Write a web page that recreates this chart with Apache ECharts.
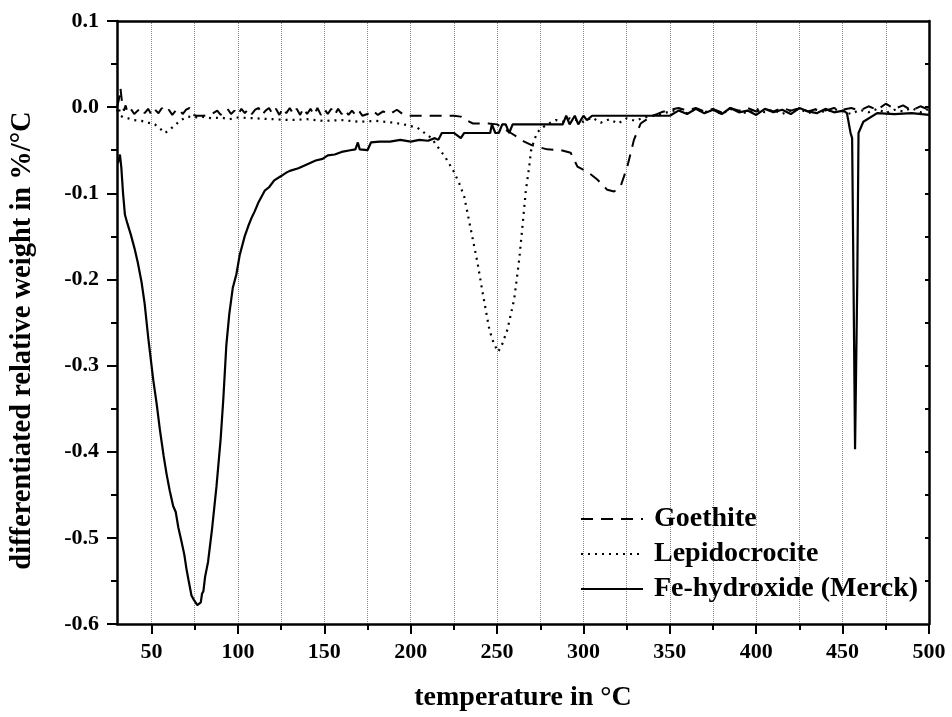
<!DOCTYPE html>
<html>
<head>
<meta charset="utf-8">
<script src="https://cdn.jsdelivr.net/npm/echarts@6/dist/echarts.min.js"></script>
<style>
html,body{margin:0;padding:0;background:#fff;}
#chart{width:952px;height:717px;}
</style>
</head>
<body>
<div id="chart"></div>
<script>
// ---- data ----
var seriesNames = ['Goethite', 'Lepidocrocite', 'Fe-hydroxide (Merck)'];

var goethiteT = [30,31,32,33,34,35,36,38,40,42,44,46,48,50,52,54,56,58,60,62,64,66,68,70,72,74,76,80,84,88,90,92,94,96,98,100,102,104,106,108,110,112,114,116,118,120,122,124,126,128,130,132,134,136,138,140,142,144,146,148,150,152,154,156,158,160,162,164,166,168,170,172,175,178,181,184,188,192,196,200,205,215,225,229,232,236,245,250,253,258,262,265.7,270,273.4,279,287,292.6,296.5,302.3,308,313.8,317.7,321.5,325.4,329.2,333.1,339,345,350,355,360,365,370,375,380,385,390,395,400,405,410,415,420,425,430,435,440,445,450,455,460,465,470,475,480,485,490,495,500];
var goethiteW = [0.0,0.008,0.022,0.004,-0.004,0.002,-0.006,-0.002,-0.008,-0.004,-0.001,-0.007,-0.002,-0.009,-0.003,-0.007,-0.001,-0.006,-0.003,-0.009,-0.004,-0.002,-0.008,-0.003,-0.001,-0.009,-0.01,-0.01,-0.009,-0.004,-0.009,-0.005,-0.002,-0.008,-0.004,-0.009,-0.002,-0.007,-0.002,-0.008,-0.003,-0.001,-0.009,-0.004,-0.001,-0.008,-0.002,-0.009,-0.001,-0.007,-0.001,-0.008,-0.002,-0.009,-0.001,-0.008,-0.002,-0.009,-0.001,-0.009,-0.002,-0.008,-0.002,-0.009,-0.002,-0.008,-0.003,-0.009,-0.004,-0.009,-0.004,-0.01,-0.008,-0.004,-0.009,-0.005,-0.008,-0.003,-0.009,-0.01,-0.01,-0.01,-0.01,-0.011,-0.015,-0.019,-0.019,-0.02,-0.024,-0.03,-0.035,-0.04,-0.044,-0.046,-0.049,-0.05,-0.053,-0.069,-0.075,-0.084,-0.096,-0.098,-0.092,-0.069,-0.038,-0.019,-0.011,-0.006,-0.003,-0.001,-0.004,-0.001,-0.005,-0.002,-0.006,-0.001,-0.004,-0.001,-0.005,-0.002,-0.005,-0.001,-0.004,-0.001,-0.005,-0.002,-0.004,-0.001,-0.003,-0.001,-0.004,0.001,-0.003,0.004,-0.002,0.002,-0.004,0.001,-0.003];

var lepidoT = [30,31,32,34,36.5,40,44.2,48,51.9,55,57.7,60,63.5,67,71.2,75,78.9,85,90,95,100,110,120,130,140,150,160,170,180,190,196,200,204,208,212,215.6,220,225,228,231,234,238.7,241.6,245.5,248,249.3,250.5,251.5,253,256,258,259.9,262.8,264.7,266.7,268.6,269.6,271.5,273.4,276,280,284,288,292,296,300,305,310,315,320,325,330,335,340,345,350,355,360,365,370,375,380,385,390,395,400,405,410,415,420,425,430,435,440,445,450,455,460,465,470,475,480,485,490,495,500];
var lepidoW = [-0.005,0.0,-0.01,-0.012,-0.013,-0.015,-0.016,-0.018,-0.02,-0.025,-0.03,-0.027,-0.021,-0.015,-0.011,-0.012,-0.011,-0.013,-0.012,-0.014,-0.012,-0.013,-0.014,-0.015,-0.014,-0.016,-0.015,-0.017,-0.016,-0.018,-0.02,-0.022,-0.024,-0.03,-0.036,-0.046,-0.058,-0.075,-0.088,-0.104,-0.134,-0.181,-0.215,-0.258,-0.274,-0.279,-0.284,-0.281,-0.275,-0.258,-0.24,-0.223,-0.177,-0.138,-0.096,-0.069,-0.051,-0.038,-0.029,-0.024,-0.019,-0.015,-0.017,-0.013,-0.015,-0.017,-0.012,-0.018,-0.014,-0.019,-0.013,-0.016,-0.012,-0.01,-0.008,-0.005,-0.003,-0.007,-0.002,-0.006,-0.003,-0.008,-0.002,-0.005,-0.007,-0.002,-0.006,-0.003,-0.008,-0.004,-0.002,-0.007,-0.003,-0.006,-0.002,-0.005,-0.008,-0.003,-0.006,-0.002,-0.007,-0.003,-0.005,-0.001,-0.006,-0.002,-0.004];

var feT = [30.5,31.7,32.5,33.5,34.6,36,38,40.4,42,44.2,46,48.1,50,51,53,54.8,57,58.7,60.5,62.5,64,65.5,67.3,69,70.2,71.5,73.1,74.5,75.5,76.5,77.5,78.5,79.2,80,81,82.7,85,87.6,90,91.5,93.3,95,97,99.1,101,103.9,106,108,109.7,112,115.5,118,121,125,128,130,135,140.5,145,149,152,156,160,165,168,169.4,170.5,175,177,182,188,194,200,205,210,214,216,218,225,229,231,240,246,247,249,251,253,255,257,259,262,270,280,288,290,292,295,297,300,302,305,308,320,335,350,355,360,365,370,375,380,385,390,395,400,405,410,415,420,425,430,435,440,445,450.5,452.5,454.6,455.5,456.3,457.2,458.5,459.2,462,470,480,490,500];
var feW = [-0.065,-0.055,-0.07,-0.1,-0.125,-0.135,-0.148,-0.166,-0.18,-0.203,-0.228,-0.268,-0.3,-0.317,-0.345,-0.374,-0.405,-0.426,-0.445,-0.463,-0.47,-0.488,-0.504,-0.52,-0.536,-0.55,-0.567,-0.572,-0.57,-0.578,-0.58,-0.575,-0.565,-0.562,-0.545,-0.528,-0.49,-0.44,-0.385,-0.34,-0.276,-0.24,-0.21,-0.194,-0.172,-0.15,-0.138,-0.128,-0.121,-0.11,-0.097,-0.093,-0.085,-0.08,-0.076,-0.074,-0.071,-0.066,-0.062,-0.06,-0.056,-0.055,-0.052,-0.05,-0.049,-0.041,-0.049,-0.05,-0.041,-0.04,-0.04,-0.038,-0.04,-0.038,-0.039,-0.036,-0.038,-0.03,-0.03,-0.036,-0.03,-0.03,-0.03,-0.02,-0.03,-0.03,-0.02,-0.02,-0.03,-0.02,-0.02,-0.02,-0.02,-0.02,-0.01,-0.02,-0.01,-0.02,-0.01,-0.015,-0.01,-0.01,-0.01,-0.01,-0.01,-0.004,-0.008,-0.002,-0.007,-0.003,-0.008,-0.001,-0.006,-0.004,-0.009,-0.002,-0.006,-0.003,-0.008,-0.001,-0.005,-0.007,-0.002,-0.006,-0.004,-0.007,-0.03,-0.036,-0.2,-0.397,-0.2,-0.03,-0.017,-0.007,-0.008,-0.007,-0.009,-0.007];

var xLabelValues = [50,100,150,200,250,300,350,400,450,500];
var xMinorValues = [75,125,175,225,275,325,375,425,475];
var yRightTicks = [-0.55,-0.5,-0.45,-0.4,-0.35,-0.3,-0.25,-0.2,-0.15,-0.1,-0.05,0,0.05];

function pairs(t, w) { return t.map(function (v, i) { return [v, w[i]]; }); }

var FONT = 'Liberation Serif';
var chart = echarts.init(document.getElementById('chart'), null, {renderer: 'canvas'});

var axisLineStyle = {color: '#000', width: 2.5};
var gridLine = {show: true, lineStyle: {color: '#888', width: 1, type: [1, 1]}};

chart.setOption({
  backgroundColor: '#fff',
  animation: false,
  grid: {left: 117, right: 23, top: 21, bottom: 92, containLabel: false},
  legend: {
    orient: 'vertical', left: 580, top: 505, padding: 0,
    itemWidth: 62, itemHeight: 14, itemGap: 7,
    itemStyle: {color: 'rgba(0,0,0,0)', borderColor: 'rgba(0,0,0,0)', borderWidth: 0, opacity: 0},
    textStyle: {fontFamily: FONT, fontWeight: 'bold', fontSize: 28, color: '#000', padding: [0, 0, 0, 6]},
    data: seriesNames
  },
  xAxis: [
    {
      type: 'value', min: 30, max: 500, position: 'bottom',
      name: 'temperature in \u00B0C', nameLocation: 'middle', nameGap: 60,
      nameTextStyle: {fontFamily: FONT, fontWeight: 'bold', fontSize: 28, color: '#000'},
      axisLine: {show: true, onZero: false, lineStyle: axisLineStyle},
      axisTick: {show: true, inside: false, length: 10, customValues: xLabelValues, lineStyle: {color: '#000', width: 2}},
      axisLabel: {show: true, customValues: xLabelValues, margin: 17, fontFamily: FONT, fontWeight: 'bold', fontSize: 22, color: '#000'},
      splitLine: gridLine
    },
    {
      type: 'value', min: 30, max: 500, position: 'bottom',
      axisLine: {show: false, onZero: false},
      axisTick: {show: true, inside: false, length: 6, customValues: xMinorValues, lineStyle: {color: '#000', width: 2}},
      axisLabel: {show: false},
      splitLine: gridLine
    },
    {
      type: 'value', min: 30, max: 500, position: 'top',
      axisLine: {show: true, onZero: false, lineStyle: axisLineStyle},
      axisTick: {show: false}, axisLabel: {show: false}, splitLine: {show: false}
    }
  ],
  yAxis: [
    {
      type: 'value', min: -0.6, max: 0.1, interval: 0.1, position: 'left',
      name: 'differentiated relative weight in %/\u00B0C', nameLocation: 'middle', nameGap: 80, nameRotate: 90,
      nameTextStyle: {fontFamily: FONT, fontWeight: 'bold', fontSize: 28.5, color: '#000', padding: [0, 36, 0, 0]},
      axisLine: {show: true, onZero: false, lineStyle: axisLineStyle},
      axisTick: {show: true, inside: false, length: 10, lineStyle: {color: '#000', width: 2}},
      minorTick: {show: true, splitNumber: 2, length: 6, lineStyle: {color: '#000', width: 2}},
      axisLabel: {margin: 18, fontFamily: FONT, fontWeight: 'bold', fontSize: 22, color: '#000',
        formatter: function (v) { return v.toFixed(1); }},
      splitLine: {show: false}
    },
    {
      type: 'value', min: -0.6, max: 0.1, position: 'right',
      axisLine: {show: true, onZero: false, lineStyle: axisLineStyle},
      axisTick: {show: true, inside: true, length: 4, customValues: yRightTicks, lineStyle: {color: '#000', width: 2}},
      axisLabel: {show: false},
      splitLine: {show: false}
    }
  ],
  series: [
    {
      name: seriesNames[0], type: 'line', xAxisIndex: 0, yAxisIndex: 0,
      data: pairs(goethiteT, goethiteW), symbol: 'none', showSymbol: false,
      lineStyle: {color: '#000', width: 2, type: [12, 8]}, itemStyle: {color: '#000'}
    },
    {
      name: seriesNames[1], type: 'line', xAxisIndex: 0, yAxisIndex: 0,
      data: pairs(lepidoT, lepidoW), symbol: 'none', showSymbol: false,
      lineStyle: {color: '#000', width: 2.2, type: [2, 5]}, itemStyle: {color: '#000'}
    },
    {
      name: seriesNames[2], type: 'line', xAxisIndex: 0, yAxisIndex: 0,
      data: pairs(feT, feW), symbol: 'none', showSymbol: false,
      lineStyle: {color: '#000', width: 2.2, type: 'solid'}, itemStyle: {color: '#000'}
    }
  ]
});
</script>
</body>
</html>
